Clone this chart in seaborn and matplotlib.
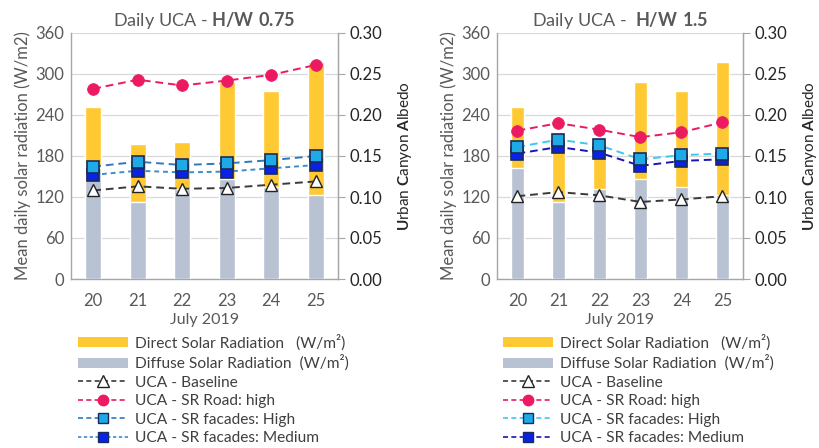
import numpy as np
import pandas as pd
import matplotlib
matplotlib.use("Agg")
import matplotlib.pyplot as plt
from matplotlib.patches import Patch
from matplotlib.lines import Line2D
import seaborn as sns

# ---------------- data ----------------
days = ["20", "21", "22", "23", "24", "25"]
diffuse = [162, 112, 131, 147, 135, 123]          # W/m2
direct = [89, 86, 70, 142, 140, 195]              # W/m2 (stacked on diffuse)

# H/W 0.75
uca075_baseline = [0.108, 0.113, 0.110, 0.111, 0.115, 0.119]
uca075_road = [0.232, 0.243, 0.236, 0.242, 0.249, 0.261]
uca075_fac_high = [0.137, 0.143, 0.139, 0.141, 0.145, 0.150]
uca075_fac_med = [0.127, 0.132, 0.130, 0.131, 0.135, 0.139]

# H/W 1.5
uca15_baseline = [0.101, 0.106, 0.102, 0.094, 0.097, 0.101]
uca15_road = [0.181, 0.190, 0.182, 0.173, 0.179, 0.191]
uca15_fac_high = [0.161, 0.170, 0.163, 0.146, 0.151, 0.153]
uca15_fac_med = [0.153, 0.161, 0.154, 0.138, 0.144, 0.146]

titles = ["Daily UCA - ", "Daily UCA -  "]
title_bold = ["H/W 0.75", "H/W 1.5"]
legend_labels = ["Direct Solar Radiation   (W/m²)", "Diffuse Solar Radiation  (W/m²)",
                 "UCA - Baseline", "UCA - SR Road: high",
                 "UCA - SR facades: High", "UCA - SR facades: Medium"]

# ---------------- style ----------------
sns.set_style("white")
plt.rcParams["font.family"] = ["Lato", "DejaVu Sans"]
plt.rcParams["mathtext.fontset"] = "custom"
plt.rcParams["mathtext.rm"] = "Lato"
plt.rcParams["mathtext.bf"] = "Lato:bold"

YELLOW = "#FFC933"
GREY = "#B8C2D2"
PINK = "#EC1A63"
DARK = "#3A3A3A"
TXT = "#595959"
SPINE = "#A6A6A6"

fig = plt.figure(figsize=(8.2, 4.48), dpi=100)

positions = [
    [71 / 820, 1 - 279 / 448, 267 / 820, 246 / 448],
    [497 / 820, 1 - 279 / 448, 246 / 820, 246 / 448],
]
bar_w = [0.35, 0.31]

panels = [
    dict(base=uca075_baseline, road=uca075_road, high=uca075_fac_high, med=uca075_fac_med,
         high_line="#2F78BE", med_line="#3F8BCB", high_ls=(0, (4, 2.5)), med_ls=(0, (2.5, 2))),
    dict(base=uca15_baseline, road=uca15_road, high=uca15_fac_high, med=uca15_fac_med,
         high_line="#3CC8F0", med_line="#1616B4", high_ls=(0, (4, 2.5)), med_ls=(0, (4, 2.5))),
]

total = [a + b for a, b in zip(diffuse, direct)]
df = pd.DataFrame({"day": days, "total": total, "diffuse": diffuse})
xpos = np.arange(len(days))

for i, (pos, p) in enumerate(zip(positions, panels)):
    ax = fig.add_axes(pos)
    sns.barplot(data=df, x="day", y="total", color=YELLOW, width=bar_w[i],
                saturation=1, ax=ax, zorder=2)
    sns.barplot(data=df, x="day", y="diffuse", color=GREY, width=bar_w[i],
                saturation=1, ax=ax, zorder=3)
    ax.set_ylim(0, 360)
    ax.set_yticks(np.arange(0, 361, 60))
    ax.set_xlim(-0.5, len(days) - 0.5)
    ax.yaxis.grid(True, color="#D9D9D9", lw=0.9, zorder=0)
    ax.set_axisbelow(True)
    ax.set_xlabel("July 2019", fontsize=11.5, color=TXT, labelpad=3)
    ax.set_ylabel("Mean daily solar radiation (W/m2)", fontsize=12, color=TXT, labelpad=3)
    ax.tick_params(axis="y", labelsize=12, colors=TXT, length=0, pad=5)
    ax.tick_params(axis="x", labelsize=12, colors=TXT, length=0, pad=10)
    ax.spines["top"].set_visible(False)
    for s in ["left", "right", "bottom"]:
        ax.spines[s].set_color(SPINE)
        ax.spines[s].set_linewidth(1.0)
    ax.set_title(titles[i] + r"$\mathbf{" + title_bold[i].replace(" ", r"\ ") + "}$",
                 fontsize=13, color=TXT, pad=5)

    ax2 = ax.twinx()
    ax2.set_ylim(0, 0.30)
    ax2.set_yticks(np.arange(0, 0.301, 0.05))
    ax2.set_yticklabels([f"{v:.2f}" for v in np.arange(0, 0.301, 0.05)])
    ax2.tick_params(axis="y", labelsize=12, colors="#262626", length=5, width=0.8,
                    color=SPINE, pad=3)
    for s in ["top", "left", "bottom"]:
        ax2.spines[s].set_visible(False)
    ax2.spines["right"].set_color(SPINE)
    ax2.set_ylabel(r"$\mathbf{U}$rban $\mathbf{C}$anyon $\mathbf{A}$lbedo",
                   fontsize=11, color="#262626", labelpad=10)

    sns.lineplot(x=xpos, y=p["base"], ax=ax2, color=DARK, lw=1.4, linestyle=(0, (4, 2.5)),
                 marker="^", markersize=9, markerfacecolor="white",
                 markeredgecolor="#222222", markeredgewidth=1.0, zorder=5)
    sns.lineplot(x=xpos, y=p["road"], ax=ax2, color=PINK, lw=1.4, linestyle=(0, (4, 2.5)),
                 marker="o", markersize=8.5, markerfacecolor=PINK,
                 markeredgecolor=PINK, markeredgewidth=0.5, zorder=5)
    sns.lineplot(x=xpos, y=p["med"], ax=ax2, color=p["med_line"], lw=1.4,
                 linestyle=p["med_ls"], marker="s", markersize=8.5,
                 markerfacecolor="#0A22E6", markeredgecolor="#1A2A5A",
                 markeredgewidth=1.2, zorder=6)
    sns.lineplot(x=xpos, y=p["high"], ax=ax2, color=p["high_line"], lw=1.4,
                 linestyle=p["high_ls"], marker="s", markersize=8.5,
                 markerfacecolor="#1EAAE6", markeredgecolor="#1A2A5A",
                 markeredgewidth=1.2, zorder=6)

    handles = [
        Patch(facecolor=YELLOW, edgecolor="none"),
        Patch(facecolor=GREY, edgecolor="none"),
        Line2D([], [], color=DARK, lw=1.2, linestyle=(0, (3, 2)), marker="^",
               markersize=8, markerfacecolor="white", markeredgecolor="#222222"),
        Line2D([], [], color=PINK, lw=1.2, linestyle=(0, (3, 2)), marker="o",
               markersize=7.5, markerfacecolor=PINK, markeredgecolor=PINK),
        Line2D([], [], color=p["high_line"], lw=1.2, linestyle=(0, (3, 2)), marker="s",
               markersize=7.5, markerfacecolor="#1EAAE6", markeredgecolor="#1A2A5A"),
        Line2D([], [], color=p["med_line"], lw=1.2,
               linestyle=(0, (2, 1.5)) if i == 0 else (0, (3, 2)), marker="s",
               markersize=7.5, markerfacecolor="#0A22E6", markeredgecolor="#1A2A5A"),
    ]
    lx = [78 / 820, 503 / 820][i]
    fig.legend(handles, legend_labels, loc="upper left",
               bbox_to_anchor=(lx, 1 - 334 / 448), frameon=False, fontsize=11.2,
               handlelength=3.2, handleheight=0.6, handletextpad=0.45,
               labelspacing=0.29, borderpad=0, borderaxespad=0,
               labelcolor="#404040")

fig.savefig("out.png", dpi=100)
